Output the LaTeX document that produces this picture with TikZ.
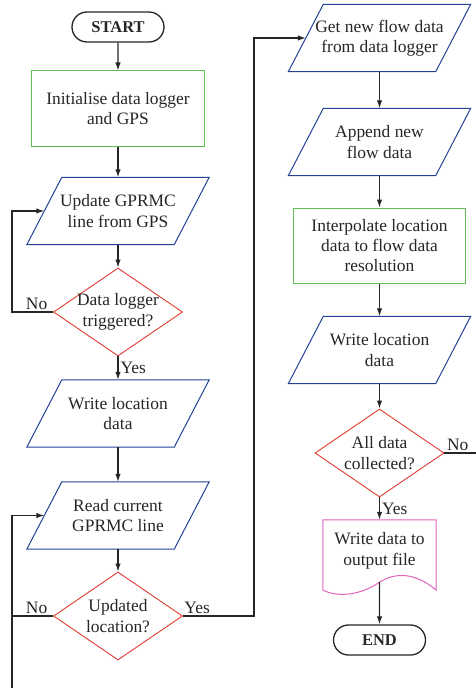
\documentclass[tikz,border=0pt]{standalone}
\usepackage{fontspec}
\setmainfont{Liberation Serif}
\usetikzlibrary{calc}
\usetikzlibrary{shapes.geometric}
\usetikzlibrary{shapes.misc}
\usetikzlibrary{arrows.meta}

\definecolor{boxgreen}{RGB}{98,188,86}
\definecolor{boxblue}{RGB}{36,66,150}
\definecolor{boxred}{RGB}{226,58,48}
\definecolor{boxpink}{RGB}{226,100,186}

\tikzset{
  base/.style={inner sep=0pt, align=center, text=black!85, font=\fontsize{17.5}{20.5}\selectfont},
  term/.style={base, rounded rectangle, draw=black!85, line width=1.3bp, minimum width=92bp, minimum height=30bp, font=\fontsize{16.5}{20}\selectfont\bfseries},
  proc/.style={base, rectangle, draw=boxgreen, line width=1bp, minimum width=172bp, minimum height=75bp},
  iotext/.style={base, minimum width=147bp, minimum height=67bp},
  io/.style={draw=boxblue, line width=1bp},
  decision/.style={base, diamond, draw=boxred, line width=0.9bp, minimum width=129bp, minimum height=88bp, inner xsep=-25bp, inner ysep=-10bp},
  doctext/.style={base, minimum width=113bp, minimum height=62bp},
  docline/.style={draw=boxpink, line width=1bp},
  arr/.style={-{Latex[length=8bp,width=5.5bp]}, line width=1.2bp, draw=black!85},
  link/.style={line width=1.2bp, draw=black!85},
  lab/.style={base, inner sep=2bp}
}

\newcommand{\ioshape}[1]{\draw[io] ($(#1.south west)+(-17.5,0)$) -- ($(#1.north west)+(17.5,0)$) -- ($(#1.north east)+(17.5,0)$) -- ($(#1.south east)+(-17.5,0)$) -- cycle;}

\begin{document}
\begin{tikzpicture}[x=1bp,y=-1bp]
\useasboundingbox (0,0) rectangle (476,688);
\def\xa{118}
\def\xb{379.5}
\node[term] (start) at (\xa,27) {START};
\node[proc] (init) at (\xa,108.5) {Initialise data logger\\and GPS};
\node[iotext] (upd) at (\xa,211) {Update GPRMC\\line from GPS};
\node[decision] (trig) at (\xa,312) {Data logger\\triggered?};
\node[iotext] (wloc) at (\xa,413.5) {Write location\\data};
\node[iotext] (read) at (\xa,515.5) {Read current\\GPRMC line};
\node[decision] (moved) at (\xa,616) {Updated\\location?};

\node[iotext] (getf) at (\xb,38) {Get new flow data\\from data logger};
\node[iotext] (appf) at (\xb,142) {Append new\\flow data};
\node[proc] (interp) at (\xb,245.5) {Interpolate location\\data to flow data\\resolution};
\node[iotext] (wloc2) at (\xb,350) {Write location\\data};
\node[decision] (alldone) at (\xb,453) {All data\\collected?};
\node[doctext] (outf) at (\xb,551) {Write data to\\output file};
\node[term] (stop) at (\xb,640) {END};

\ioshape{upd}
\ioshape{wloc}
\ioshape{read}
\ioshape{getf}
\ioshape{appf}
\ioshape{wloc2}
\draw[docline] ($(outf.south west)+(0,8)$) -- (outf.north west) -- (outf.north east) -- ($(outf.south east)+(0,8)$)
  .. controls ($(outf.south east)+(-21,-10)$) and ($(outf.south)+(15.5,-10)$) .. (outf.south)
  .. controls ($(outf.south)+(-17.5,12)$) and ($(outf.south west)+(17,16)$) .. ($(outf.south west)+(0,8)$);

\coordinate (lft) at (12,688);
\coordinate (mid) at (254,616);
\coordinate (rgt) at (476,453);

\draw[arr] (start) -- (init);
\draw[arr] (init) -- (upd);
\draw[arr] (upd) -- (trig);
\draw[arr] (trig) -- node[lab,right]{Yes} (wloc);
\draw[arr] (trig.west) -- node[lab,above,pos=0.4]{No} (trig.west -| lft) |- (upd.west);
\draw[arr] (wloc) -- (read);
\draw[arr] (read) -- (moved);
\draw[link] (moved.west) -- node[lab,above,pos=0.4]{No} (moved.west -| lft);
\draw[arr] (lft) |- (read.west);
\draw[arr] (moved.east) -- node[lab,above,pos=0.2]{Yes} (mid) |- (getf.west);
\draw[arr] (getf) -- (appf);
\draw[arr] (appf) -- (interp);
\draw[arr] (interp) -- (wloc2);
\draw[arr] (wloc2) -- (alldone);
\draw[arr] (alldone) -- node[lab,right]{Yes} (outf);
\draw[link] (alldone.east) -- node[lab,above,pos=0.42]{No} (rgt);
\draw[arr] (outf.south) -- (stop);
\end{tikzpicture}
\end{document}
